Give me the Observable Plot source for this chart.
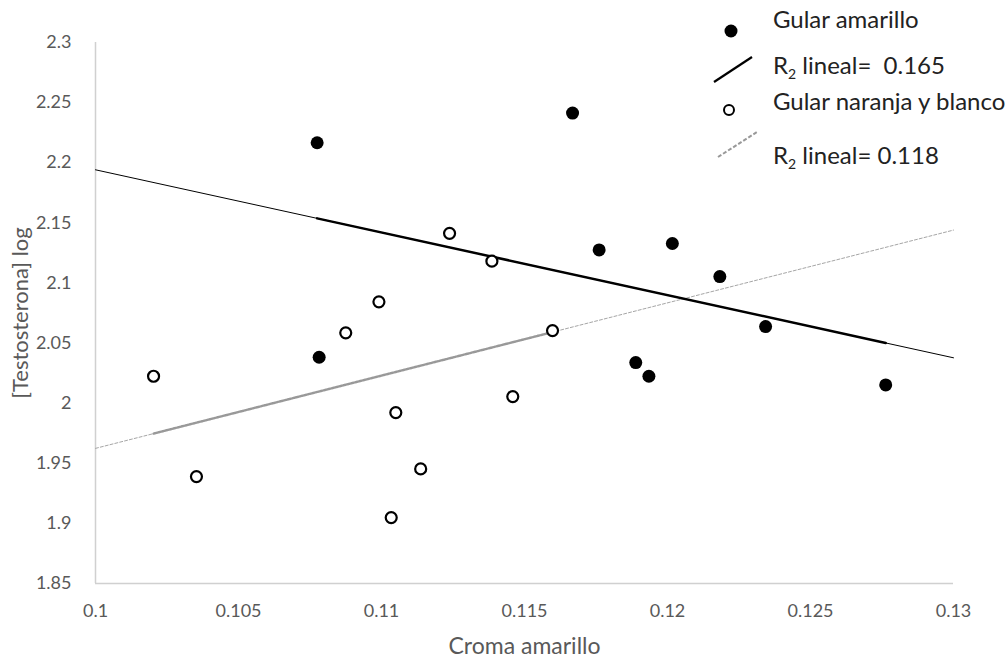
<!DOCTYPE html>
<html>
<head>
<meta charset="utf-8">
<script src="https://cdn.jsdelivr.net/npm/d3@7"></script>
<script src="https://cdn.jsdelivr.net/npm/@observablehq/plot@0.6"></script>
<style>
  html, body { margin: 0; padding: 0; background: #fff; }
  #wrap { position: relative; width: 1007px; height: 658px; font-family: Lato, "Open Sans", sans-serif; }
  .leg { position: absolute; font-size: 24px; color: #222; white-space: nowrap; line-height: 1; }
  .leg sub { font-size: 14px; vertical-align: -5px; }
  #legsvg { position: absolute; left: 0; top: 0; }
</style>
</head>
<body>
<div id="wrap"></div>
<script>
// Gular amarillo (filled)
const amarilloX = [0.10775, 0.10782, 0.11668, 0.11761, 0.12017, 0.12183, 0.12343, 0.11889, 0.11935, 0.12763];
const amarilloY = [2.2166, 2.0382, 2.2413, 2.1275, 2.1328, 2.1053, 2.0637, 2.0338, 2.0224, 2.0152];
// Gular naranja y blanco (open)
const naranjaX = [0.10203, 0.10353, 0.10875, 0.10991, 0.11050, 0.11034, 0.11137, 0.11238, 0.11386, 0.11459, 0.11598];
const naranjaY = [2.0224, 1.9389, 2.0585, 2.0843, 1.9922, 1.9048, 1.9453, 2.1413, 2.1181, 2.0055, 2.0604];

const xTicks = [0.1, 0.105, 0.11, 0.115, 0.12, 0.125, 0.13];
const yTicks = [1.85, 1.9, 1.95, 2, 2.05, 2.1, 2.15, 2.2, 2.25, 2.3];
const xDomain = [0.1, 0.13];
const yDomain = [1.85, 2.3];
const legendLabels = ["Gular amarillo", "R", " lineal=  0.165", "Gular naranja y blanco", " lineal= 0.118"];

const amarillo = amarilloX.map((x, i) => ({x, y: amarilloY[i]}));
const naranja = naranjaX.map((x, i) => ({x, y: naranjaY[i]}));

function fit(pts) {
  const mx = d3.mean(pts, d => d.x), my = d3.mean(pts, d => d.y);
  const sxy = d3.sum(pts, d => (d.x - mx) * (d.y - my));
  const sxx = d3.sum(pts, d => (d.x - mx) ** 2);
  const b = sxy / sxx, a = my - b * mx;
  return x => a + b * x;
}
function lineOver(pts, lo, hi) {
  const f = fit(pts);
  return [{x: lo, y: f(lo)}, {x: hi, y: f(hi)}];
}
const fA = lineOver(amarillo, xDomain[0], xDomain[1]);
const fAin = lineOver(amarillo, d3.min(amarilloX), d3.max(amarilloX));
const fN = lineOver(naranja, xDomain[0], xDomain[1]);
const fNin = lineOver(naranja, d3.min(naranjaX), d3.max(naranjaX));

const fmt = d => String(+d.toFixed(3));

const chart = Plot.plot({
  width: 1007,
  height: 658,
  marginLeft: 95,
  marginRight: 54,
  marginTop: 42,
  marginBottom: 75,
  style: {fontFamily: "Lato, 'Open Sans', sans-serif", fontSize: "18px", color: "#595959", background: "#fff"},
  x: {domain: xDomain, ticks: xTicks, tickFormat: fmt, tickSize: 0, tickPadding: 21, label: "Croma amarillo", labelAnchor: "center", labelOffset: 70, labelArrow: "none"},
  y: {domain: yDomain, ticks: yTicks, tickFormat: fmt, tickSize: 0, tickPadding: 24, label: "[Testosterona] log", labelAnchor: "center", labelOffset: 83, labelArrow: "none"},
  marks: [
    Plot.ruleX([xDomain[0]], {stroke: "#d0d0d0", strokeWidth: 1.5}),
    Plot.ruleY([yDomain[0]], {stroke: "#d0d0d0", strokeWidth: 1.5}),
    Plot.line(fN, {x: "x", y: "y", stroke: "#a6a6a6", strokeWidth: 1, strokeDasharray: "3,2"}),
    Plot.line(fNin, {x: "x", y: "y", stroke: "#999", strokeWidth: 2.4, strokeDasharray: "1.5,1.2"}),
    Plot.line(fA, {x: "x", y: "y", stroke: "#000", strokeWidth: 1}),
    Plot.line(fAin, {x: "x", y: "y", stroke: "#000", strokeWidth: 2.5}),
    Plot.dot(naranja, {x: "x", y: "y", r: 5.5, fill: "#fff", stroke: "#000", strokeWidth: 2.2}),
    Plot.dot(amarillo, {x: "x", y: "y", r: 6.5, fill: "#000", stroke: "none"})
  ]
});
chart.style.position = "absolute";
chart.style.left = "0px";
chart.style.top = "0px";
const wrap = document.getElementById("wrap");
wrap.appendChild(chart);
chart.querySelectorAll("[aria-label='x-axis label'], [aria-label='y-axis label']").forEach(g => {
  const fs = g.getAttribute("aria-label").startsWith("x") ? "23" : "22";
  g.setAttribute("font-size", fs);
  g.querySelectorAll("text").forEach(t => t.setAttribute("font-size", fs));
});

// Legend (symbols + text), positioned at top right
const ns = "http://www.w3.org/2000/svg";
const lsvg = document.createElementNS(ns, "svg");
lsvg.setAttribute("id", "legsvg");
lsvg.setAttribute("width", 1007);
lsvg.setAttribute("height", 200);
lsvg.innerHTML = `
  <circle cx="731" cy="31" r="6.5" fill="#000"/>
  <line x1="714" y1="82" x2="752" y2="57" stroke="#000" stroke-width="2.2"/>
  <circle cx="729" cy="110" r="5" fill="#fff" stroke="#000" stroke-width="2"/>
  <line x1="718" y1="157" x2="757" y2="132" stroke="#999" stroke-width="2" stroke-dasharray="4,2"/>`;
wrap.appendChild(lsvg);
function addLeg(html, left, top) {
  const d = document.createElement("div");
  d.className = "leg";
  d.style.left = left + "px";
  d.style.top = top + "px";
  d.innerHTML = html;
  wrap.appendChild(d);
}
addLeg(legendLabels[0], 773, 7);
addLeg(legendLabels[1] + "<sub>2</sub>" + legendLabels[2].replace(/ /g, "&nbsp;"), 773, 53);
addLeg(legendLabels[3], 773, 89);
addLeg(legendLabels[1] + "<sub>2</sub>" + legendLabels[4].replace(/ /g, "&nbsp;"), 773, 143);
</script>
</body>
</html>
